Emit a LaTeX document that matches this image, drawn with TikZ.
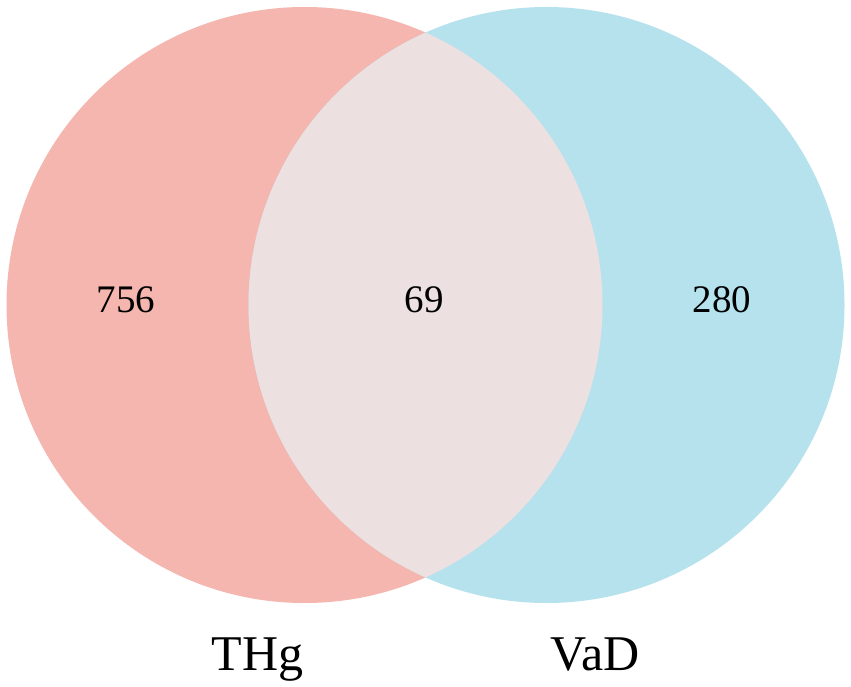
\documentclass[tikz,border=0pt]{standalone}
\usepackage{fontspec}
\setmainfont{Liberation Serif}
\definecolor{leftc}{HTML}{F4B6AE}
\definecolor{rightc}{HTML}{B6E2ED}
\definecolor{midc}{HTML}{EDE0E1}
\tikzset{
  num/.style={anchor=base, font=\fontsize{39}{39}\selectfont, text=black, inner sep=0pt},
  setlabel/.style={anchor=base, font=\fontsize{50}{50}\selectfont, text=black, inner sep=0pt}
}
\begin{document}
\begin{tikzpicture}[x=1pt,y=-1pt]
\useasboundingbox (0,0) rectangle (851,687);
\fill[white] (0,0) rectangle (851,687);
\coordinate (cl) at (304.5,305);
\coordinate (cr) at (546.5,305);
\fill[leftc] (cl) circle[radius=298];
\fill[rightc] (cr) circle[radius=298];
\begin{scope}
  \clip (cl) circle[radius=298];
  \fill[midc] (cr) circle[radius=298];
\end{scope}
\node[num] (a) at (126,312) {756};
\node[num] (b) at (424,312) {69};
\node[num] (c) at (722,312) {280};
\node[setlabel] (l1) at (257.5,670) {THg};
\node[setlabel] (l2) at (595,670) {VaD};
\end{tikzpicture}
\end{document}
